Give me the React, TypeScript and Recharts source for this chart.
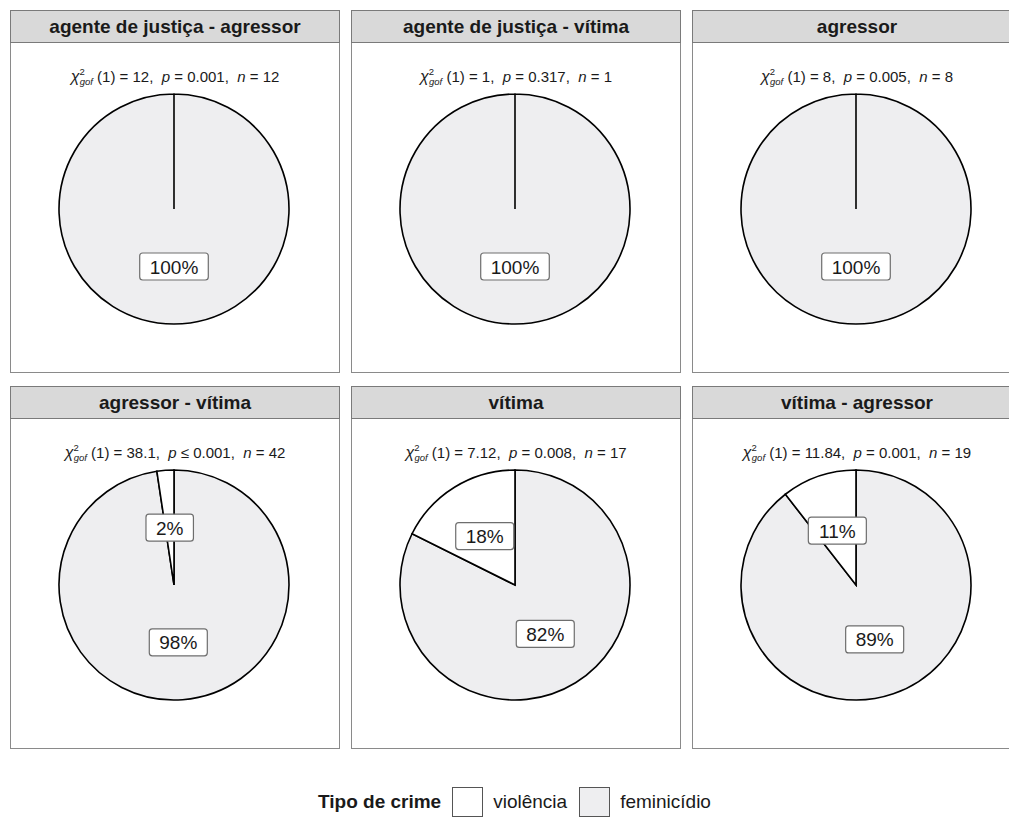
import { Cell, Pie, PieChart } from 'recharts'

// Facet titles, one pie per facet
const facets = [
  'agente de justiça - agressor',
  'agente de justiça - vítima',
  'agressor',
  'agressor - vítima',
  'vítima',
  'vítima - agressor',
]
const feminicidio = [12, 1, 8, 41, 14, 17]
const violencia = [0, 0, 0, 1, 3, 2]
const chiSquared = ['12', '1', '8', '38.1', '7.12', '11.84']
const pValues = ['= 0.001', '= 0.317', '= 0.005', '≤ 0.001', '= 0.008', '= 0.001']

const legendItems = ['violência', 'feminicídio']
const FILLS: Record<string, string> = { violência: '#ffffff', feminicídio: '#eeeef0' }

const FONT = '"Liberation Sans", Arial, Helvetica, sans-serif'
const COL_X = [10, 351, 692]
const ROW_Y = [10, 386]
const PANEL_W = 330
const HEADER_H = 33
const BODY_H = 330
const RADIAN = Math.PI / 180

function textWidth(s: string, size: number) {
  let w = 0
  for (const ch of s) w += ch === '%' ? 0.889 : 0.556
  return w * size
}

function PctLabel(props: any) {
  const { cx, cy, midAngle, outerRadius, percent } = props
  const r = outerRadius * 0.5
  const x = cx + r * Math.cos(-midAngle * RADIAN)
  const y = cy + r * Math.sin(-midAngle * RADIAN)
  const txt = `${Math.round(percent * 100)}%`
  const w = textWidth(txt, 19) + 20
  const h = 27
  return (
    <g>
      <rect x={x - w / 2} y={y - h / 2} width={w} height={h} rx={3} fill="#fff" stroke="#6e6e6e" strokeWidth={1.2} />
      <text x={x} y={y + 7} textAnchor="middle" fontSize={19} fontFamily={FONT} fill="#1a1a1a">
        {txt}
      </text>
    </g>
  )
}

function Subtitle({ i }: { i: number }) {
  const n = feminicidio[i] + violencia[i]
  return (
    <svg width={PANEL_W} height={26} style={{ position: 'absolute', left: 0, top: 21 }}>
      <text
        x={PANEL_W / 2 - 1}
        y={18}
        textAnchor="middle"
        fontSize={15}
        fontFamily={FONT}
        fill="#1a1a1a"
        style={{ whiteSpace: 'pre' }}
      >
        <tspan fontStyle="italic" fontSize={16}>χ</tspan>
        <tspan fontSize={9.5} dy={-7}>2</tspan>
        <tspan fontSize={9.5} dx={-5} dy={10} fontStyle="italic">gof</tspan>
        <tspan dy={-3}>{` (1) = ${chiSquared[i]},  `}</tspan>
        <tspan fontStyle="italic">p</tspan>
        <tspan>{` ${pValues[i]},  `}</tspan>
        <tspan fontStyle="italic">n</tspan>
        <tspan>{` = ${n}`}</tspan>
      </text>
    </svg>
  )
}

function Panel({ i }: { i: number }) {
  const data = [
    { name: 'feminicídio', value: feminicidio[i] },
    { name: 'violência', value: violencia[i] },
  ].filter((d) => d.value > 0)
  const left = COL_X[i % 3]
  const top = ROW_Y[Math.floor(i / 3)]
  return (
    <div style={{ position: 'absolute', left, top, width: PANEL_W }}>
      <div
        style={{
          height: HEADER_H,
          boxSizing: 'border-box',
          background: '#d9d9d9',
          border: '1.5px solid #7a7a7a',
          display: 'flex',
          alignItems: 'center',
          justifyContent: 'center',
          fontFamily: FONT,
          fontWeight: 700,
          fontSize: 19,
          color: '#1a1a1a',
        }}
      >
        {facets[i]}
      </div>
      <div
        style={{
          position: 'relative',
          height: BODY_H,
          boxSizing: 'border-box',
          border: '1.5px solid #8a8a8a',
          borderTop: 'none',
          background: '#fff',
        }}
      >
        <Subtitle i={i} />
        <div style={{ position: 'absolute', left: 0, top: 0 }}>
          <PieChart width={PANEL_W - 3} height={BODY_H - 2} margin={{ top: 0, right: 0, bottom: 0, left: 0 }}>
            <Pie
              data={data}
              dataKey="value"
              nameKey="name"
              cx={163}
              cy={166}
              outerRadius={115}
              startAngle={90}
              endAngle={-270}
              stroke="#000"
              strokeWidth={1.6}
              label={PctLabel}
              labelLine={false}
              isAnimationActive={false}
            >
              {data.map((d) => (
                <Cell key={d.name} fill={FILLS[d.name]} stroke="#000" />
              ))}
            </Pie>
          </PieChart>
        </div>
      </div>
    </div>
  )
}

export default function App() {
  return (
    <div
      style={{
        position: 'absolute',
        left: 0,
        top: 0,
        width: 1009,
        height: 818,
        overflow: 'hidden',
        background: '#fff',
      }}
    >
      {facets.map((_, i) => (
        <Panel key={i} i={i} />
      ))}
      <div
        style={{
          position: 'absolute',
          left: 318,
          top: 787,
          height: 30,
          display: 'flex',
          alignItems: 'center',
          fontFamily: FONT,
          fontSize: 19,
          color: '#1a1a1a',
        }}
      >
        <span style={{ fontWeight: 700, marginRight: 11 }}>Tipo de crime</span>
        {legendItems.map((name) => (
          <span key={name} style={{ display: 'flex', alignItems: 'center' }}>
            <span
              style={{
                width: 31,
                height: 30,
                boxSizing: 'border-box',
                border: '1.5px solid #555',
                background: FILLS[name],
                marginRight: 10,
              }}
            />
            <span style={{ marginRight: 12 }}>{name}</span>
          </span>
        ))}
      </div>
    </div>
  )
}
